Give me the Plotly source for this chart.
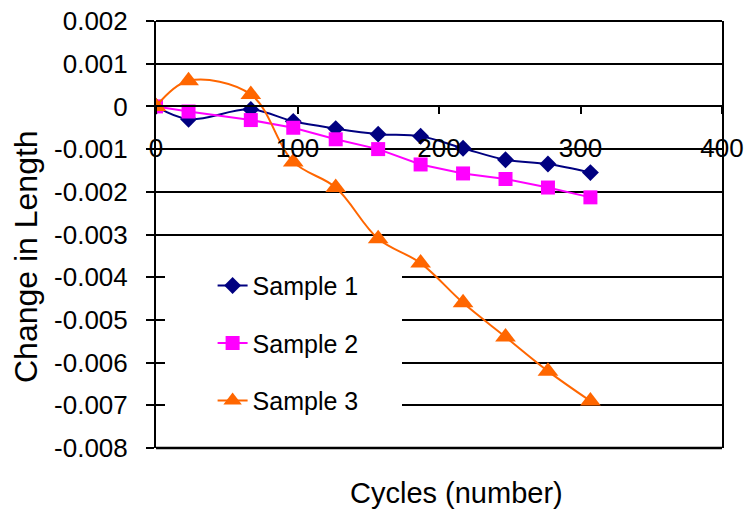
import plotly.graph_objects as go

cycles = [0, 23, 67, 97, 127, 157, 187, 217, 247, 277, 307]
sample1 = [0, -0.0003, -0.00007, -0.00035, -0.00052, -0.00065, -0.0007, -0.00098, -0.00125, -0.00135, -0.00155]
sample2 = [0, -0.00012, -0.00032, -0.0005, -0.00077, -0.001, -0.00136, -0.00157, -0.0017, -0.0019, -0.00213]
sample3 = [0, 0.0006, 0.00028, -0.0013, -0.0019, -0.0031, -0.00367, -0.0046, -0.0054, -0.0062, -0.0069]

y_ticks = [0.002, 0.001, 0, -0.001, -0.002, -0.003, -0.004, -0.005, -0.006, -0.007, -0.008]
y_labels = ["0.002", "0.001", "0", "-0.001", "-0.002", "-0.003", "-0.004", "-0.005", "-0.006", "-0.007", "-0.008"]
x_ticks = [0, 100, 200, 300, 400]
x_labels = ["0", "100", "200", "300", "400"]

FONT = "Liberation Sans, Arial, sans-serif"

fig = go.Figure()
fig.add_trace(go.Scatter(x=cycles, y=sample1, name="Sample 1", mode="lines+markers",
                         line=dict(color="#000080", width=2, shape="spline", smoothing=1),
                         marker=dict(symbol="diamond", size=13, color="#000080"),
                         legendgroup="a"))
fig.add_trace(go.Scatter(x=cycles, y=sample2, name="Sample 2", mode="lines+markers",
                         line=dict(color="#FF00FF", width=2),
                         marker=dict(symbol="square", size=14, color="#FF00FF"),
                         legendgroup="b"))
fig.add_trace(go.Scatter(x=cycles, y=sample3, name="Sample 3", mode="lines+markers",
                         line=dict(color="#FF6600", width=2, shape="spline", smoothing=1),
                         marker=dict(symbol="triangle-up", size=18, color="#FF6600"),
                         legendgroup="c"))

fig.update_layout(
    width=745, height=517, autosize=False,
    margin=dict(l=156, r=23, t=21, b=69, pad=0, autoexpand=False),
    paper_bgcolor="white", plot_bgcolor="white",
    font=dict(family=FONT, color="black", size=25),
    showlegend=True,
    legend=dict(x=0.1, y=0.434, xanchor="left", yanchor="top",
                bgcolor="rgba(0,0,0,0)", borderwidth=0,
                font=dict(family=FONT, size=25, color="black"),
                traceorder="grouped", tracegroupgap=22),
    xaxis=dict(range=[0, 400], tickvals=x_ticks, ticktext=x_labels, automargin=False,
               showgrid=False, zeroline=False, showline=True, linecolor="black", linewidth=2,
               ticks="outside", ticklen=7, tickwidth=2, tickcolor="black",
               anchor="free", position=0.8, ticklabelstandoff=11,
               tickfont=dict(family=FONT, size=26, color="black")),
    yaxis=dict(range=[-0.008, 0.002], tickvals=y_ticks, ticktext=y_labels, automargin=False,
               showgrid=True, gridcolor="black", gridwidth=1.5, zeroline=False,
               showline=True, mirror=True, linecolor="black", linewidth=2,
               ticks="outside", ticklen=8, tickwidth=2, tickcolor="black",
               ticklabelstandoff=13,
               tickfont=dict(family=FONT, size=26, color="black")),
    shapes=[
        dict(type="rect", xref="paper", yref="paper", x0=(165 - 156) / 566, x1=(402 - 156) / 566,
             y0=(448 - 432) / 427, y1=(448 - 260) / 427, fillcolor="white", line=dict(width=0),
             layer="above"),
        dict(type="line", xref="paper", yref="paper", x0=0, x1=1, y0=1, y1=1,
             line=dict(color="black", width=2), layer="above"),
        dict(type="line", xref="paper", yref="paper", x0=0, x1=1, y0=0, y1=0,
             line=dict(color="black", width=2.5), layer="above"),
    ],
    annotations=[
        dict(text="Change in Length", xref="paper", yref="paper", textangle=-90,
             x=(26 - 156) / 566, y=(448 - 257) / 427, xanchor="center", yanchor="middle",
             showarrow=False, font=dict(family=FONT, size=32, color="black")),
        dict(text="Cycles (number)", xref="paper", yref="paper",
             x=(456 - 156) / 566, y=(448 - 493) / 427, xanchor="center", yanchor="middle",
             showarrow=False, font=dict(family=FONT, size=29, color="black")),
    ],
)

fig.write_html("out.html")
